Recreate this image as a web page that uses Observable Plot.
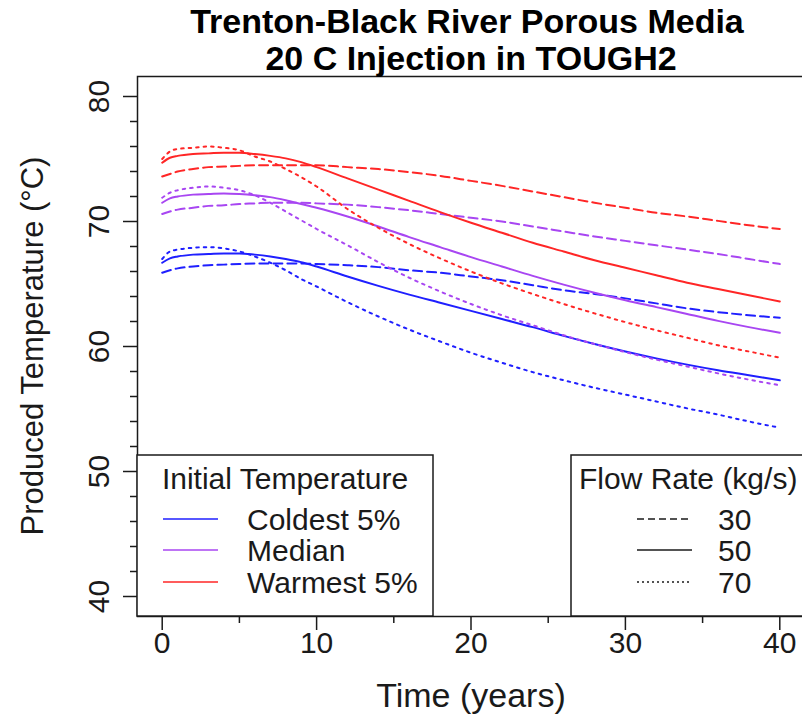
<!DOCTYPE html>
<html>
<head>
<meta charset="utf-8">
<script src="https://cdn.jsdelivr.net/npm/d3@7"></script>
<script src="https://cdn.jsdelivr.net/npm/@observablehq/plot@0.6"></script>
<style>
  html, body { margin: 0; padding: 0; background: #fff; }
  #wrap { position: relative; width: 802px; height: 715px; overflow: hidden; font-family: "Liberation Sans", Arial, sans-serif; }
  #overlay { position: absolute; left: 0; top: 0; pointer-events: none; }
</style>
</head>
<body>
<div id="wrap"></div>
<script>
// ---- data ----
const years = [0,0.5,1,2,3,4,5,6,7,8,9,10,12,14,16,18,20,22,24,26,28,30,32,34,36,38,40];

const coldest30 = [65.9,66.1,66.25,66.4,66.5,66.55,66.6,66.65,66.65,66.65,66.65,66.6,66.5,66.35,66.1,65.9,65.6,65.3,64.9,64.5,64.2,63.85,63.45,63.05,62.75,62.5,62.3];
const coldest50 = [66.7,67.05,67.2,67.35,67.4,67.45,67.45,67.35,67.2,67.0,66.75,66.4,65.6,64.85,64.15,63.5,62.85,62.2,61.55,60.85,60.2,59.6,59.05,58.55,58.1,57.7,57.3];
const coldest70 = [67.0,67.6,67.75,67.9,67.95,67.85,67.6,67.2,66.7,66.1,65.4,64.8,63.55,62.4,61.35,60.4,59.5,58.7,57.95,57.3,56.7,56.15,55.6,55.05,54.55,54.0,53.5];

const median30 = [70.6,70.8,70.95,71.1,71.25,71.3,71.4,71.45,71.5,71.5,71.5,71.45,71.35,71.15,70.9,70.6,70.3,70.0,69.6,69.2,68.8,68.45,68.1,67.75,67.4,67.0,66.6];
const median50 = [71.5,71.85,72.0,72.15,72.2,72.25,72.2,72.1,71.95,71.7,71.4,71.1,70.4,69.6,68.75,67.95,67.15,66.4,65.65,64.95,64.3,63.7,63.15,62.6,62.05,61.55,61.1];
const median70 = [71.9,72.3,72.5,72.7,72.8,72.7,72.5,72.1,71.5,70.8,70.1,69.4,68.1,66.75,65.5,64.4,63.4,62.5,61.7,60.9,60.2,59.55,58.95,58.4,57.85,57.35,56.9];

const warmest30 = [73.6,73.8,74.0,74.2,74.35,74.4,74.45,74.5,74.5,74.5,74.5,74.5,74.35,74.2,73.95,73.65,73.25,72.85,72.4,71.95,71.5,71.1,70.7,70.4,70.05,69.7,69.4];
const warmest50 = [74.7,75.1,75.25,75.4,75.45,75.5,75.5,75.4,75.25,75.05,74.75,74.35,73.45,72.55,71.65,70.75,69.9,69.1,68.3,67.6,66.9,66.3,65.7,65.1,64.6,64.1,63.6];
const warmest70 = [75.0,75.6,75.8,75.9,76.0,75.9,75.7,75.2,74.8,74.2,73.55,72.8,71.0,69.5,68.2,67.05,66.0,65.05,64.2,63.4,62.65,61.95,61.3,60.7,60.1,59.6,59.1];

const groups = ["Coldest 5%", "Median", "Warmest 5%"];
const groupColors = ["#1f1fff", "#a846f2", "#ff2626"];
const flowRates = ["30", "50", "70"];
const flowDash = ["9,5", null, "2.5,5"];

const xMajor = [0,10,20,30,40];
const xMinor = [5,15,25,35];
const yMajor = [40,50,60,70,80];
const yMinor = [42,44,46,48,52,54,56,58,62,64,66,68,72,74,76,78];

const titleLines = ["Trenton-Black River Porous Media", "20 C Injection in TOUGH2"];
const xTitle = "Time (years)";
const yTitle = "Produced Temperature (\u00B0C)";
const legend1Title = "Initial Temperature";
const legend2Title = "Flow Rate (kg/s)";

// ---- build long table ----
const seriesTable = [
  ["Coldest 5%", "30", coldest30], ["Coldest 5%", "50", coldest50], ["Coldest 5%", "70", coldest70],
  ["Median", "30", median30], ["Median", "50", median50], ["Median", "70", median70],
  ["Warmest 5%", "30", warmest30], ["Warmest 5%", "50", warmest50], ["Warmest 5%", "70", warmest70]
];
const rows = [];
for (const [g, f, vals] of seriesTable) {
  vals.forEach((v, i) => rows.push({group: g, flow: f, key: g + "|" + f, t: years[i], T: v}));
}

const FONT = "'Liberation Sans', Arial, sans-serif";
const INK = "#1a1a1a";

const lineMarks = flowRates.map((f, i) => Plot.line(rows.filter(r => r.flow === f), {
  x: "t", y: "T", z: "key", stroke: "group",
  strokeWidth: 2, strokeDasharray: flowDash[i], curve: "monotone-x"
}));

const chart = Plot.plot({
  width: 802, height: 715,
  marginLeft: 137, marginRight: -2, marginTop: 76, marginBottom: 99,
  style: {fontFamily: FONT, color: INK, background: "white", overflow: "visible"},
  x: {domain: [-1.6, 41.6]},
  y: {domain: [38.4, 81.6]},
  color: {domain: groups, range: groupColors},
  marks: [
    ...lineMarks,
    Plot.axisX({ticks: xMajor, tickSize: 14, tickFormat: () => "", label: null, strokeWidth: 1.5}),
    Plot.axisX({ticks: xMinor, tickSize: 7, tickFormat: () => "", label: null, strokeWidth: 1.5}),
    Plot.axisY({ticks: yMajor, tickSize: 14, tickFormat: () => "", label: null, strokeWidth: 1.5}),
    Plot.axisY({ticks: yMinor, tickSize: 7, tickFormat: () => "", label: null, strokeWidth: 1.5}),
    Plot.text(xMajor, {x: d => d, text: d => String(d), frameAnchor: "bottom", dy: 27, lineAnchor: "middle", fontSize: 30, fill: INK}),
    Plot.text(yMajor, {y: d => d, text: d => String(d), frameAnchor: "left", dx: -38, rotate: -90, textAnchor: "middle", lineAnchor: "middle", fontSize: 30, fill: INK}),
    Plot.frame({stroke: INK, strokeWidth: 1.5})
  ]
});

const wrap = document.getElementById("wrap");
wrap.appendChild(chart);

// ---- overlay: titles and legends ----
const svg = d3.select(wrap).append("svg")
  .attr("id", "overlay").attr("width", 802).attr("height", 715)
  .style("font-family", FONT);

// main title
svg.append("text").attr("x", 467).attr("y", 33).attr("text-anchor", "middle")
  .attr("font-size", 34).attr("font-weight", "bold").attr("fill", "#000").text(titleLines[0]);
svg.append("text").attr("x", 471).attr("y", 70).attr("text-anchor", "middle")
  .attr("font-size", 34).attr("font-weight", "bold").attr("fill", "#000").text(titleLines[1]);

// axis titles
svg.append("text").attr("x", 471).attr("y", 707).attr("text-anchor", "middle")
  .attr("font-size", 34).attr("fill", INK).text(xTitle);
svg.append("text").attr("transform", "translate(32,346) rotate(-90)")
  .attr("text-anchor", "middle").attr("dominant-baseline", "central")
  .attr("font-size", 31).attr("fill", INK).text(yTitle);

// legend 1: Initial Temperature
const l1 = svg.append("g").attr("transform", "translate(137,455)");
l1.append("rect").attr("x", 0).attr("y", 0).attr("width", 296).attr("height", 161)
  .attr("fill", "white").attr("stroke", INK).attr("stroke-width", 1.5);
l1.append("text").attr("x", 148).attr("y", 23).attr("text-anchor", "middle")
  .attr("dominant-baseline", "central").attr("font-size", 30).attr("fill", INK).text(legend1Title);
const rowY = [64, 95, 127];
groups.forEach((g, i) => {
  l1.append("line").attr("x1", 26).attr("x2", 81).attr("y1", rowY[i]).attr("y2", rowY[i])
    .attr("stroke", groupColors[i]).attr("stroke-width", 1.6);
  l1.append("text").attr("x", 110).attr("y", rowY[i]).attr("dominant-baseline", "central")
    .attr("font-size", 30).attr("fill", INK).text(g);
});

// legend 2: Flow Rate
const l2 = svg.append("g").attr("transform", "translate(571,455)");
l2.append("rect").attr("x", 0).attr("y", 0).attr("width", 260).attr("height", 161)
  .attr("fill", "white").attr("stroke", INK).attr("stroke-width", 1.5);
l2.append("text").attr("x", 8).attr("y", 23)
  .attr("dominant-baseline", "central").attr("font-size", 30).attr("fill", INK).text(legend2Title);
const legDash = ["7,4", null, "2,3"];
flowRates.forEach((f, i) => {
  l2.append("line").attr("x1", 66).attr("x2", 121).attr("y1", rowY[i]).attr("y2", rowY[i])
    .attr("stroke", INK).attr("stroke-width", 1.3).attr("stroke-dasharray", legDash[i]);
  l2.append("text").attr("x", 147).attr("y", rowY[i]).attr("dominant-baseline", "central")
    .attr("font-size", 30).attr("fill", INK).text(f);
});
</script>
</body>
</html>
